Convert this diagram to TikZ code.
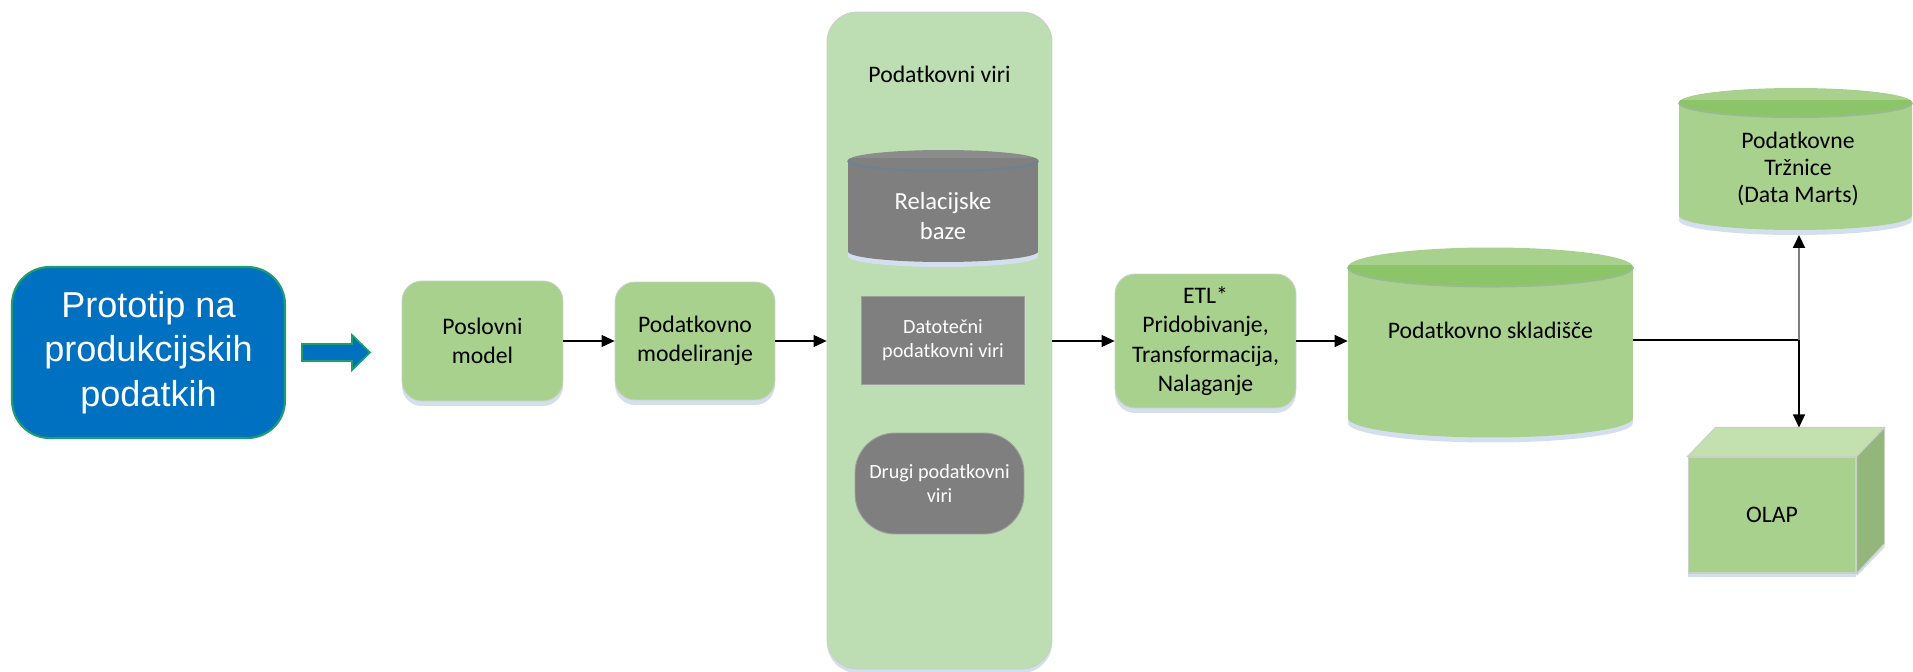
\documentclass[tikz,border=0pt]{standalone}
\usepackage{fontspec}
\setmainfont{Carlito}
\newfontfamily\arialfont{Liberation Sans}
\usetikzlibrary{arrows.meta,positioning,calc,shadows}
\definecolor{ProtoBlue}{HTML}{0070C0}
\definecolor{ProtoEdge}{HTML}{1E9E6E}
\definecolor{LeafGreen}{HTML}{A9D18E}
\definecolor{PaleGreen}{HTML}{BDDDB2}
\definecolor{EdgeGray}{HTML}{C9D1C4}
\definecolor{ShadowBlue}{HTML}{D3DFEF}
\definecolor{StoneGray}{HTML}{7F7F7F}
\definecolor{GreenBody}{HTML}{A9D18E}
\definecolor{GreenTop}{HTML}{A9D18E}
\definecolor{GreenInner}{HTML}{8CC567}
\definecolor{GreenRim}{HTML}{97BC8C}
\definecolor{GrayBody}{HTML}{7F7F7F}
\definecolor{GrayTop}{HTML}{8C8C8C}
\definecolor{GrayInner}{HTML}{808080}
\definecolor{GrayRim}{HTML}{6F8090}
\definecolor{SideGreen}{HTML}{93B77A}
\definecolor{LidGreen}{HTML}{C3E1AF}

% cylinder: centre x, top y, bottom y, x radius, y radius, palette
\newcommand{\drum}[6]{%
  \fill[ShadowBlue] ([xshift=-#4]#1,#2+5) -- ([xshift=-#4]#1,#3+5) arc[start angle=180,end angle=360,x radius=#4,y radius=#5] -- ([xshift=#4]#1,#2+5) -- cycle;
  \fill[#6Body] ([xshift=-#4]#1,#2) -- ([xshift=-#4]#1,#3) arc[start angle=180,end angle=360,x radius=#4,y radius=#5] -- ([xshift=#4]#1,#2) -- cycle;
  \fill[#6Top] (#1,#2) ellipse[x radius=#4,y radius=#5];
  \begin{scope}
    \clip (#1,#2) ellipse[x radius=#4,y radius=#5];
    \fill[#6Inner] ([xshift=-#4]#1,#2-2) rectangle ([xshift=#4]#1,#2+40);
  \end{scope}
  \draw[#6Rim,line width=1.2pt] ([xshift=-#4]#1,#2) arc[start angle=180,end angle=360,x radius=#4,y radius=#5];
}

\tikzset{
  stage/.style={rounded corners=0.4cm,fill=LeafGreen,draw=EdgeGray,line width=0.5pt,minimum width=3.22cm,minimum height=2.4cm,align=center,font=\fontsize{13.5}{16.8}\selectfont,drop shadow={shadow xshift=0cm,shadow yshift=-0.1cm,fill=ShadowBlue,opacity=1}},
  slab/.style={fill=StoneGray,draw=StoneGray!75!white,line width=0.5pt,text=white,align=center,font=\fontsize{11.5}{14}\selectfont},
  caption/.style={align=center,font=\fontsize{13.5}{16.5}\selectfont},
  flow/.style={line width=0.6pt,-{Triangle[length=0.26cm,width=0.24cm,color=black]}}
}

\begin{document}
\begin{tikzpicture}[x=0.02cm,y=-0.02cm]
\fill[white] (0,0) rectangle (1913,672);
\useasboundingbox (0,0) rectangle (1913,672);

% prototype and push arrow
\node[fill=ProtoBlue,draw=ProtoEdge,line width=1.2pt,rounded corners=0.75cm,minimum width=5.46cm,minimum height=3.42cm,text=white,align=center,font=\arialfont\fontsize{20.5}{25.5}\selectfont] (proto) at (148.5,352.5) {Prototip na\\produkcijskih\\podatkih};
\draw[fill=ProtoBlue,draw=ProtoEdge,line width=1pt] (302,344) -- (352,344) -- (352,335) -- (370,352.5) -- (352,370) -- (352,361) -- (302,361) -- cycle;

% modelling
\node[stage] (posl) at (482.5,341) {Poslovni\\model};
\node[stage,minimum width=3.2cm,minimum height=2.36cm] (model) at (695,341) {Podatkovno\\modeliranje};

% data sources
\node[rounded corners=0.6cm,fill=PaleGreen,draw=EdgeGray,line width=0.5pt,minimum width=4.5cm,minimum height=13.14cm,drop shadow={shadow xshift=0cm,shadow yshift=-0.08cm,fill=ShadowBlue,opacity=1}] (viri) at (939.5,340.5) {};
\node[caption] (virilabel) at (939.5,74) {Podatkovni viri};
\drum{943}{160.5}{251.5}{1.9cm}{0.21cm}{Gray}
\node[caption,text=white,font=\fontsize{14}{17}\selectfont] (relac) at (943,216) {Relacijske\\baze};
\node[slab,minimum width=3.26cm,minimum height=1.76cm] (datot) at (943,340) {Datotečni\\podatkovni viri};
\node[slab,rounded corners=0.8cm,minimum width=3.38cm,minimum height=2.02cm] (drugi) at (939.5,483.5) {Drugi podatkovni\\viri};

% ETL and warehouse
\node[stage,minimum width=3.62cm,minimum height=2.68cm] (etl) at (1205.5,341) {ETL*\\Pridobivanje,\\Transformacija,\\Nalaganje};
\drum{1490.5}{267}{418}{2.85cm}{0.39cm}{Green}
\node[caption,minimum width=5.7cm] (sklad) at (1490.5,330) {Podatkovno skladišče};

% data marts
\drum{1795.5}{102.5}{215.5}{2.33cm}{0.29cm}{Green}
\node[caption,font=\fontsize{13.5}{15.6}\selectfont] (marts) at (1798,169) {Podatkovne\\Tržnice\\(Data Marts)};

% OLAP cube
\node[fill=LeafGreen,draw=EdgeGray,line width=0.6pt,minimum width=3.36cm,minimum height=2.32cm,font=\fontsize{13.5}{16.5}\selectfont,drop shadow={shadow xshift=0cm,shadow yshift=-0.08cm,fill=ShadowBlue,opacity=1}] (olap) at (1772,515) {OLAP};
\fill[ShadowBlue] ([yshift=-0.08cm]olap.north east) -- ++(28,-29) -- ++(0,116) -- ++(-28,29) -- cycle;
\draw[fill=SideGreen,draw=EdgeGray,line width=0.6pt] (olap.north east) -- ++(28,-29) -- ++(0,116) -- (olap.south east) -- cycle;
\draw[fill=LidGreen,draw=EdgeGray,line width=0.6pt] (olap.north west) -- ++(28,-29) -- ++(168,0) -- (olap.north east) -- cycle;
\coordinate (olaptop) at ($(olap.north)+(0,-29)$);

% connectors
\coordinate (junct) at (1799,340);
\coordinate (martsfoot) at (1799,235);
\draw[flow] (posl) -- (model);
\draw[flow] (model.east) -- (model.east -| viri.west);
\draw[flow] (viri.east |- etl.west) -- (etl.west);
\draw[flow] (etl.east) -- (etl.east -| sklad.west);
\draw[line width=0.6pt] (sklad.east |- junct) -- (junct);
\draw[flow,StoneGray,line width=1.1pt] (junct) -- (martsfoot);
\draw[flow] (junct) -- (junct |- olaptop);
\end{tikzpicture}
\end{document}
